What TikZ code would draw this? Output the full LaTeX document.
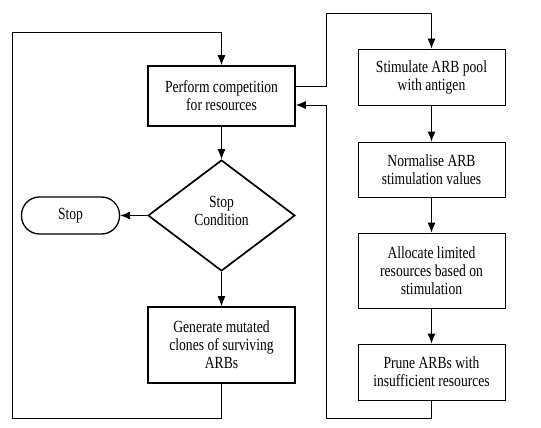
\documentclass[tikz,border=0pt]{standalone}
\usepackage{fontspec}
\setmainfont[FakeStretch=0.8]{Liberation Serif}
\usetikzlibrary{shapes.geometric,arrows.meta}
\begin{document}
\begin{tikzpicture}[x=1pt,y=-1pt,
  txt/.style={font=\fontsize{17}{18}\selectfont,align=center},
  thinbox/.style={draw,line width=0.9pt,minimum width=147pt,txt,inner sep=0pt},
  thickbox/.style={draw,line width=1.7pt,minimum width=147pt,txt,inner sep=0pt},
  arr/.style={-{Latex[length=10pt,width=8pt]},line width=0.9pt},
  ln/.style={line width=0.9pt}]
\useasboundingbox (0,0) rectangle (541,428);
\node[thickbox,minimum height=60pt] (perf) at (221.5,96) {Perform competition\\for resources};
\node[draw,diamond,line width=1.7pt,minimum width=147pt,minimum height=111pt,inner sep=0pt,aspect=1.32,txt] (cond) at (221.5,215.5) {};
\node[txt] at (221.5,211) {Stop\\Condition};
\node[draw,rounded corners=18pt,line width=1.3pt,minimum width=98pt,minimum height=37pt,txt] (stop) at (70.5,215.5) {Stop};
\node[thickbox,minimum height=76pt] (gen) at (221.5,345) {Generate mutated\\clones of surviving\\ARBs};
\node[thinbox,minimum height=56pt] (stim) at (431.5,77) {Stimulate ARB pool\\with antigen};
\node[thinbox,minimum height=55pt] (norm) at (431.5,169.5) {Normalise ARB\\stimulation values};
\node[thinbox,minimum height=75pt] (alloc) at (431.5,270.5) {Allocate limited\\resources based on\\stimulation};
\node[thinbox,minimum height=56pt] (prune) at (431.5,372) {Prune ARBs with\\insufficient resources};
\coordinate (l1) at (12,418);
\coordinate (l2) at (12,32);
\coordinate (r1) at (326,86);
\coordinate (r2) at (326,13);
\coordinate (b1) at (326,418);
\coordinate (b2) at (326,105);
\draw[arr] (perf) -- (cond);
\draw[arr] (cond.south) -- (gen.north);
\draw[arr] (cond.west) -- (stop.east);
\draw[arr] (gen.south) |- (l1) -- (l2) -| (perf.north);
\draw[arr] (perf.east |- r1) -- (r1) -- (r2) -| (stim.north);
\draw[arr] (stim) -- (norm);
\draw[arr] (norm) -- (alloc);
\draw[arr] (alloc) -- (prune);
\draw[arr] (prune.south) |- (b1) -- (b2) -- (perf.east |- b2);
\end{tikzpicture}
\end{document}
